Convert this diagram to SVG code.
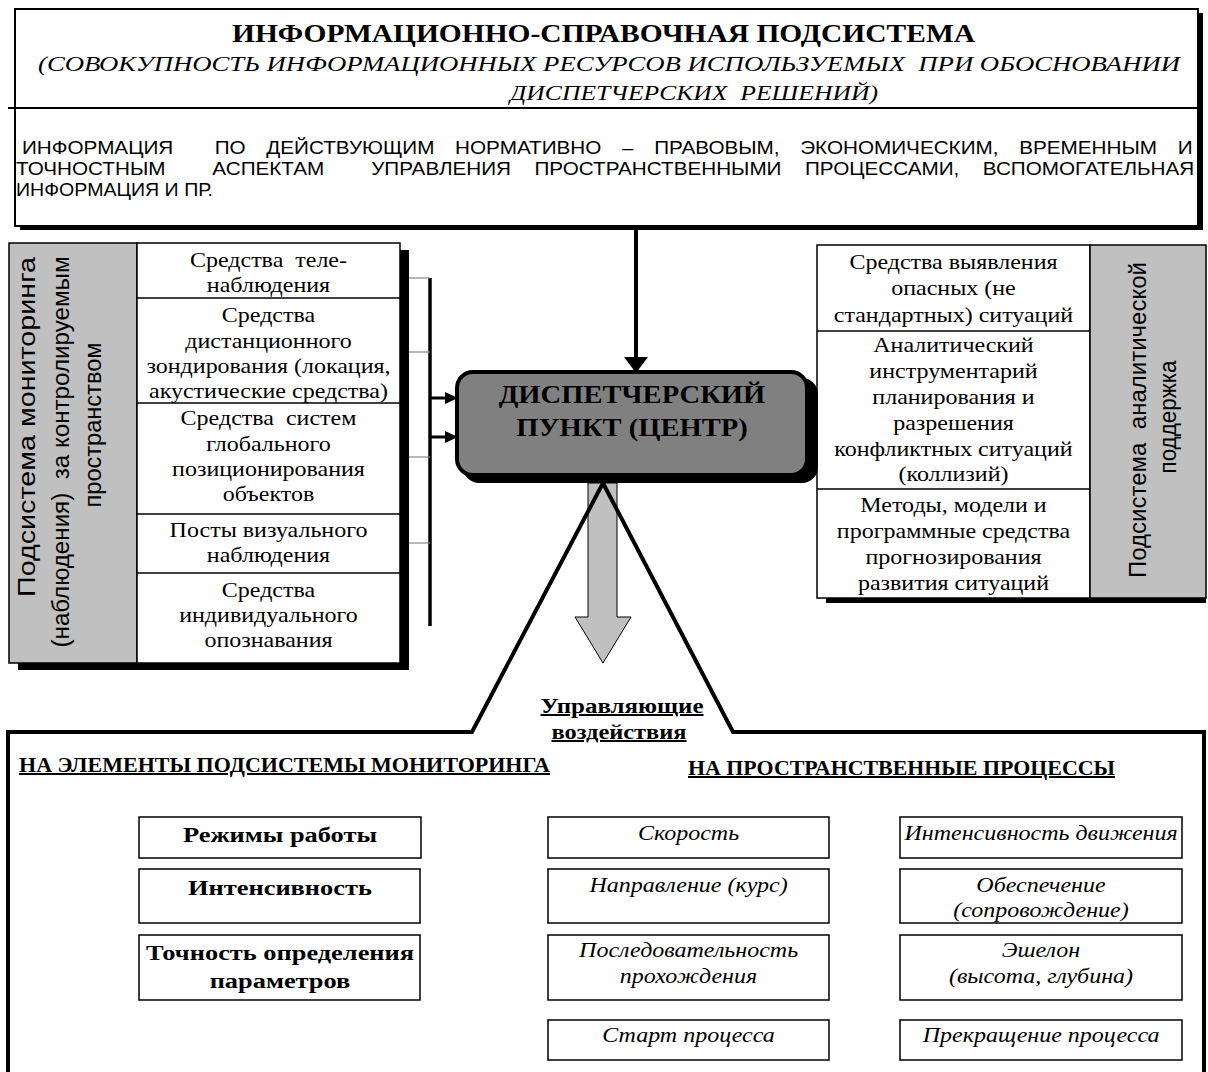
<svg xmlns="http://www.w3.org/2000/svg" width="1208" height="1072" viewBox="0 0 1208 1072">
<style>
.t{font-family:"Liberation Serif","Times New Roman",serif;fill:#000}
.s{font-family:"Liberation Sans",Arial,sans-serif;fill:#000}
.b{font-weight:bold}
.i{font-style:italic}
.m{text-anchor:middle}
.x{transform-box:fill-box;transform-origin:center;transform:scaleX(1.2)}
.x11{transform-box:fill-box;transform-origin:center;transform:scaleX(1.1)}
.xl{transform-box:fill-box;transform-origin:left center;transform:scaleX(1.15)}
.u{text-decoration:underline}
.box{fill:#fff;stroke:#000;stroke-width:1.5}
.gray{fill:#c0c0c0;stroke:#000;stroke-width:1.5}
.thin{stroke:#000;stroke-width:1.5}
.tick{stroke:#888;stroke-width:1.2}
.heavy{fill:none;stroke:#000;stroke-width:4;stroke-linejoin:miter}
</style>

<g id="connectors">
  <line x1="636" y1="228" x2="636" y2="358" stroke="#000" stroke-width="4"/>
  <polygon points="624,357 648,357 636,373" fill="#000"/>
  <line x1="430" y1="278" x2="430" y2="626" stroke="#000" stroke-width="3.5"/>
  <line class="tick" x1="409" y1="278" x2="430" y2="278"/>
  <line class="tick" x1="409" y1="352" x2="430" y2="352"/>
  <line class="tick" x1="409" y1="457" x2="430" y2="457"/>
  <line class="tick" x1="409" y1="543" x2="430" y2="543"/>
  <line x1="430" y1="398" x2="447" y2="398" stroke="#000" stroke-width="3"/>
  <polygon points="445,392 458,398 445,404" fill="#000"/>
  <line x1="430" y1="437" x2="447" y2="437" stroke="#000" stroke-width="3"/>
  <polygon points="445,431 458,437 445,443" fill="#000"/>
  <polygon points="588,483 617,483 617,617 631,617 603,663 575,617 588,617" fill="#c0c0c0" stroke="#000" stroke-width="1"/>
  <path class="heavy" d="M8,1072 L8,732 L472,732 L603,483 L733,732 L1204,732 L1204,1072"/>
</g>

<g id="info-subsystem">
  <rect x="20" y="13" width="1183" height="217" fill="#000"/>
  <rect x="15" y="9" width="1183" height="217" fill="#fff" stroke="#000" stroke-width="2"/>
  <line x1="8" y1="108" x2="1198" y2="108" stroke="#000" stroke-width="2"/>
  <text class="t b" x="232" y="42" font-size="25" textLength="743" lengthAdjust="spacingAndGlyphs">ИНФОРМАЦИОННО-СПРАВОЧНАЯ ПОДСИСТЕМА</text>
  <text class="t i" x="38" y="71" font-size="22" textLength="1142" lengthAdjust="spacingAndGlyphs" xml:space="preserve">(СОВОКУПНОСТЬ ИНФОРМАЦИОННЫХ РЕСУРСОВ ИСПОЛЬЗУЕМЫХ  ПРИ ОБОСНОВАНИИ</text>
  <text class="t i" x="510" y="100" font-size="22" textLength="368" lengthAdjust="spacingAndGlyphs" xml:space="preserve">ДИСПЕТЧЕРСКИХ  РЕШЕНИЙ)</text>
  <text class="s xl" x="22" y="154" font-size="18" word-spacing="13" xml:space="preserve">ИНФОРМАЦИЯ  ПО ДЕЙСТВУЮЩИМ НОРМАТИВНО – ПРАВОВЫМ, ЭКОНОМИЧЕСКИМ, ВРЕМЕННЫМ И</text>
  <text class="s xl" x="16" y="175" font-size="18" word-spacing="15.4" xml:space="preserve">ТОЧНОСТНЫМ  АСПЕКТАМ  УПРАВЛЕНИЯ ПРОСТРАНСТВЕННЫМИ ПРОЦЕССАМИ, ВСПОМОГАТЕЛЬНАЯ</text>
  <text class="s" x="16" y="196" font-size="18" textLength="197" lengthAdjust="spacingAndGlyphs">ИНФОРМАЦИЯ И ПР.</text>
</g>

<g id="monitoring-subsystem">
  <rect x="18" y="250" width="391" height="420" fill="#000"/>
  <rect class="gray" x="9" y="243" width="128" height="420"/>
  <rect class="box" x="137" y="243" width="263" height="420"/>
  <line class="thin" x1="137" y1="298" x2="400" y2="298"/>
  <line class="thin" x1="137" y1="403" x2="400" y2="403"/>
  <line class="thin" x1="137" y1="514" x2="400" y2="514"/>
  <line class="thin" x1="137" y1="573" x2="400" y2="573"/>
  <g transform="translate(0,427) rotate(-90)">
    <text class="s m" x="0" y="35" font-size="23" fill="#111" textLength="340" lengthAdjust="spacingAndGlyphs">Подсистема мониторинга</text>
  </g>
  <g transform="translate(0,452) rotate(-90)">
    <text class="s m" x="0" y="69" font-size="23" fill="#111" textLength="391" lengthAdjust="spacingAndGlyphs" xml:space="preserve">(наблюдения)  за контролируемым</text>
  </g>
  <g transform="translate(0,452) rotate(-90)">
    <text class="s m" x="27" y="101" font-size="23" fill="#111" textLength="165" lengthAdjust="spacingAndGlyphs">пространством</text>
  </g>
  <g font-size="20">
    <text class="t m x" x="268.5" y="267" xml:space="preserve">Средства  теле-</text>
    <text class="t m x" x="268.5" y="292">наблюдения</text>
    <text class="t m x" x="268.5" y="322">Средства</text>
    <text class="t m x" x="268.5" y="348">дистанционного</text>
    <text class="t m x" x="268.5" y="373">зондирования (локация,</text>
    <text class="t m x" x="268.5" y="398">акустические средства)</text>
    <text class="t m x" x="268.5" y="425" xml:space="preserve">Средства  систем</text>
    <text class="t m x" x="268.5" y="451">глобального</text>
    <text class="t m x" x="268.5" y="476">позиционирования</text>
    <text class="t m x" x="268.5" y="501">объектов</text>
    <text class="t m x" x="268.5" y="537">Посты визуального</text>
    <text class="t m x" x="268.5" y="562">наблюдения</text>
    <text class="t m x" x="268.5" y="597">Средства</text>
    <text class="t m x" x="268.5" y="622">индивидуального</text>
    <text class="t m x" x="268.5" y="647">опознавания</text>
  </g>
</g>

<g id="analytic-subsystem">
  <rect x="826" y="252" width="380" height="351" fill="#000"/>
  <rect class="box" x="817" y="245" width="273" height="353"/>
  <rect class="gray" x="1090" y="245" width="116" height="353"/>
  <line class="thin" x1="817" y1="331" x2="1090" y2="331"/>
  <line class="thin" x1="817" y1="489" x2="1090" y2="489"/>
  <g transform="translate(0,420) rotate(-90)">
    <text class="s m" x="0" y="1146" font-size="23" fill="#111" textLength="316" lengthAdjust="spacingAndGlyphs" xml:space="preserve">Подсистема  аналитической</text>
  </g>
  <g transform="translate(0,417) rotate(-90)">
    <text class="s m" x="0" y="1176" font-size="23" fill="#111" textLength="113" lengthAdjust="spacingAndGlyphs">поддержка</text>
  </g>
  <g font-size="20">
    <text class="t m x" x="953.5" y="269">Средства выявления</text>
    <text class="t m x" x="953.5" y="295">опасных (не</text>
    <text class="t m x" x="953.5" y="322">стандартных) ситуаций</text>
    <text class="t m x" x="953.5" y="352">Аналитический</text>
    <text class="t m x" x="953.5" y="378">инструментарий</text>
    <text class="t m x" x="953.5" y="404">планирования и</text>
    <text class="t m x" x="953.5" y="430">разрешения</text>
    <text class="t m x" x="953.5" y="456">конфликтных ситуаций</text>
    <text class="t m x" x="953.5" y="481">(коллизий)</text>
    <text class="t m x" x="953.5" y="512">Методы, модели и</text>
    <text class="t m x" x="953.5" y="538">программные средства</text>
    <text class="t m x" x="953.5" y="564">прогнозирования</text>
    <text class="t m x" x="953.5" y="590">развития ситуаций</text>
  </g>
</g>

<g id="dispatch-center">
  <rect x="463" y="378" width="355" height="105" rx="16" fill="#000"/>
  <rect x="457" y="372" width="350" height="103" rx="16" fill="#808080" stroke="#000" stroke-width="4"/>
  <text class="t b m x11" x="632" y="403" font-size="26" fill="#111">ДИСПЕТЧЕРСКИЙ</text>
  <text class="t b m x11" x="632" y="436" font-size="26" fill="#111">ПУНКТ (ЦЕНТР)</text>
</g>

<g id="control-label">
  <text class="t b m u" x="622" y="713" font-size="20" textLength="163" lengthAdjust="spacingAndGlyphs">Управляющие</text>
  <text class="t b m u" x="619" y="739" font-size="20" textLength="135" lengthAdjust="spacingAndGlyphs">воздействия</text>
</g>

<g id="monitoring-elements">
  <text class="t b u" x="19" y="772" font-size="20" textLength="531" lengthAdjust="spacingAndGlyphs">НА ЭЛЕМЕНТЫ ПОДСИСТЕМЫ МОНИТОРИНГА</text>
  <g id="mode">
    <rect class="box" x="139" y="817" width="282" height="41" stroke-width="1.2"/>
    <text class="t b m x" x="280" y="842" font-size="22">Режимы работы</text>
  </g>
  <g id="intensity">
    <rect class="box" x="139" y="869" width="281" height="54" stroke-width="1.2"/>
    <text class="t b m x" x="280" y="895" font-size="22">Интенсивность</text>
  </g>
  <g id="accuracy">
    <rect class="box" x="139" y="935" width="281" height="65" stroke-width="1.2"/>
    <text class="t b m x" x="280" y="960" font-size="22">Точность определения</text>
    <text class="t b m x" x="280" y="988" font-size="22">параметров</text>
  </g>
</g>

<g id="spatial-processes">
  <text class="t b u" x="688" y="775" font-size="20" textLength="427" lengthAdjust="spacingAndGlyphs">НА ПРОСТРАНСТВЕННЫЕ ПРОЦЕССЫ</text>
  <g id="speed">
    <rect class="box" x="548" y="817" width="281" height="41" stroke-width="1.2"/>
    <text class="t i m x" x="688.5" y="840" font-size="20">Скорость</text>
  </g>
  <g id="direction">
    <rect class="box" x="548" y="869" width="281" height="54" stroke-width="1.2"/>
    <text class="t i m x" x="688.5" y="892" font-size="20">Направление (курс)</text>
  </g>
  <g id="sequence">
    <rect class="box" x="548" y="935" width="281" height="65" stroke-width="1.2"/>
    <text class="t i m x" x="688.5" y="957" font-size="20">Последовательность</text>
    <text class="t i m x" x="688.5" y="983" font-size="20">прохождения</text>
  </g>
  <g id="start">
    <rect class="box" x="548" y="1020" width="281" height="40" stroke-width="1.2"/>
    <text class="t i m x" x="688.5" y="1042" font-size="20">Старт процесса</text>
  </g>
  <g id="traffic">
    <rect class="box" x="900" y="817" width="282" height="41" stroke-width="1.2"/>
    <text class="t i m x" x="1041" y="840" font-size="20">Интенсивность движения</text>
  </g>
  <g id="support">
    <rect class="box" x="900" y="869" width="282" height="54" stroke-width="1.2"/>
    <text class="t i m x" x="1041" y="892" font-size="20">Обеспечение</text>
    <text class="t i m x" x="1041" y="917" font-size="20">(сопровождение)</text>
  </g>
  <g id="echelon">
    <rect class="box" x="900" y="935" width="282" height="65" stroke-width="1.2"/>
    <text class="t i m x" x="1041" y="957" font-size="20">Эшелон</text>
    <text class="t i m x" x="1041" y="983" font-size="20">(высота, глубина)</text>
  </g>
  <g id="stop">
    <rect class="box" x="900" y="1020" width="282" height="40" stroke-width="1.2"/>
    <text class="t i m x" x="1041" y="1042" font-size="20">Прекращение процесса</text>
  </g>
</g>
</svg>
